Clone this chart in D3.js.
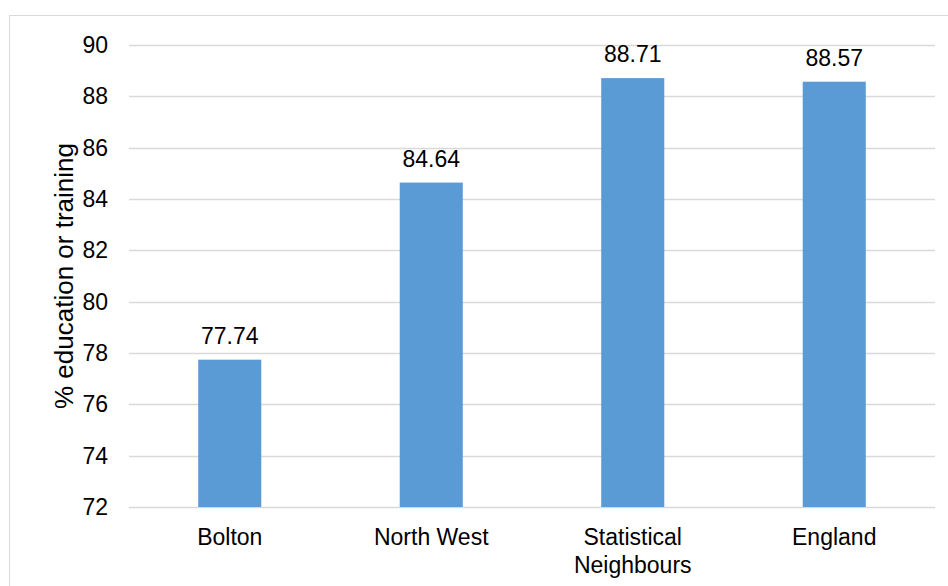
<!DOCTYPE html>
<html>
<head>
<meta charset="utf-8">
<script src="https://cdn.jsdelivr.net/npm/d3@7"></script>
<style>
  html, body { margin: 0; padding: 0; background: #fff; }
  svg { display: block; }
  text { font-family: "Liberation Sans", Arial, sans-serif; fill: #000; }
</style>
</head>
<body>
<script>
// Share of young people in education or training, by area
const categories = ["Bolton", "North West", "Statistical Neighbours", "England"];
const values = [77.74, 84.64, 88.71, 88.57];
const yTicks = [72, 74, 76, 78, 80, 82, 84, 86, 88, 90];
const yTitle = "% education or training";

const W = 948, H = 586;
const plot = { left: 129, right: 935, top: 45, bottom: 507 };

const svg = d3.select("body").append("svg")
  .attr("width", W).attr("height", H);

// chart frame
svg.append("rect")
  .attr("x", 9.5).attr("y", 15.5)
  .attr("width", W + 10).attr("height", H + 10)
  .attr("fill", "none").attr("stroke", "#d9d9d9").attr("stroke-width", 1);

const x = d3.scaleBand()
  .domain(categories)
  .range([plot.left, plot.right])
  .paddingInner(0.687)
  .paddingOuter(0.3435);

const y = d3.scaleLinear()
  .domain([72, 90])
  .range([plot.bottom, plot.top]);

// horizontal gridlines
svg.append("g")
  .selectAll("line")
  .data(yTicks)
  .join("line")
  .attr("x1", plot.left).attr("x2", plot.right)
  .attr("y1", d => Math.round(y(d)) + 0.5)
  .attr("y2", d => Math.round(y(d)) + 0.5)
  .attr("stroke", "#d9d9d9").attr("stroke-width", 1.3);

// y axis labels
const yAxis = svg.append("g")
  .attr("transform", `translate(${plot.left},0)`)
  .call(d3.axisLeft(y).tickValues(yTicks).tickSize(0).tickPadding(21));
yAxis.select(".domain").remove();
yAxis.selectAll("text")
  .style("font-family", '"Liberation Sans", Arial, sans-serif')
  .style("font-size", "23px")
  .attr("fill", "#000");

// bars
svg.append("g")
  .selectAll("rect")
  .data(values)
  .join("rect")
  .attr("x", (d, i) => x(categories[i]))
  .attr("width", x.bandwidth())
  .attr("y", d => y(d))
  .attr("height", d => y(72) - y(d))
  .attr("fill", "#5b9bd5");

// value labels
svg.append("g")
  .selectAll("text")
  .data(values)
  .join("text")
  .attr("x", (d, i) => x(categories[i]) + x.bandwidth() / 2)
  .attr("y", d => y(d) - 16)
  .attr("text-anchor", "middle")
  .style("font-size", "23px")
  .text(d => d.toFixed(2));

// category labels, wrapped at word boundaries to fit the band
const catG = svg.append("g");
categories.forEach(c => {
  const cx = x(c) + x.bandwidth() / 2;
  const t = catG.append("text")
    .attr("x", cx).attr("y", plot.bottom + 38)
    .attr("text-anchor", "middle")
    .style("font-size", "23px");
  const words = c.split(" ");
  const lines = (c.length > 12 && words.length > 1) ? words : [c];
  lines.forEach((ln, i) => {
    t.append("tspan")
      .attr("x", cx)
      .attr("dy", i === 0 ? 0 : 28)
      .text(ln);
  });
});

// y axis title
svg.append("text")
  .attr("transform", `translate(73,276) rotate(-90)`)
  .attr("text-anchor", "middle")
  .style("font-size", "26px")
  .text(yTitle);
</script>
</body>
</html>
